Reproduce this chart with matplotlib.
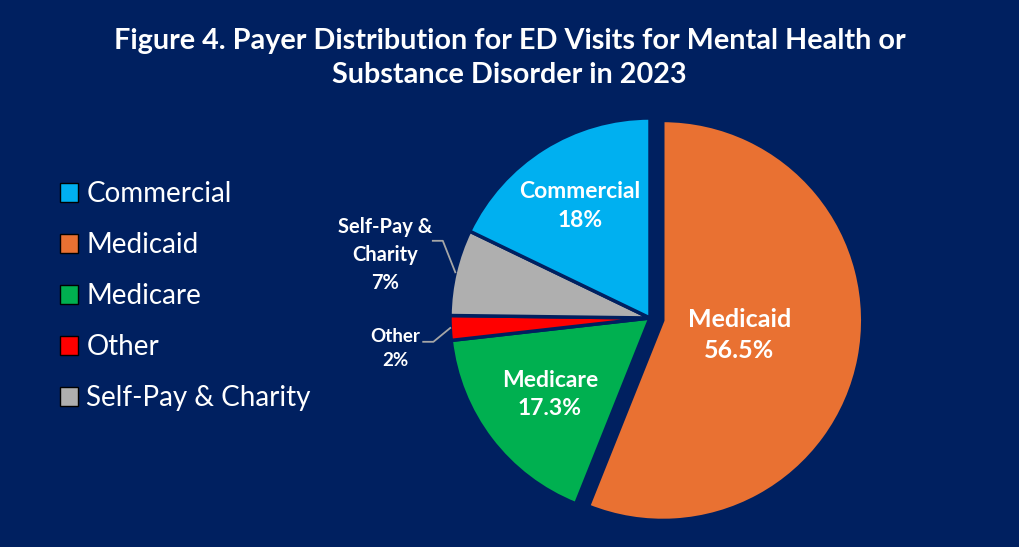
import matplotlib.pyplot as plt
from matplotlib.patches import Patch
import numpy as np

# payer shares as printed on the chart (%)
payers = ['Medicaid', 'Medicare', 'Other', 'Self-Pay & Charity', 'Commercial']
shares = [56.5, 17.3, 2, 7, 18]
share_labels = ['56.5%', '17.3%', '2%', '7%', '18%']
slice_text = ['Medicaid', 'Medicare', 'Other', 'Self-Pay &\nCharity', 'Commercial']
colors = ['#E97132', '#00B050', '#FF0000', '#AFAFAF', '#00B0F0']

legend_order = ['Commercial', 'Medicaid', 'Medicare', 'Other', 'Self-Pay & Charity']

BG = '#002060'

fig = plt.figure(figsize=(10.19, 5.47), dpi=100, facecolor=BG)

# axes placed so that 1 data unit = 200 px, pie centre at (650, 318) px
W, H = 1019, 547
ax = fig.add_axes([330 / W, 4 / H, 640 / W, 450 / H])
ax.set_facecolor(BG)

wedges, _ = ax.pie(shares, colors=colors, startangle=90, counterclock=False,
                   explode=[0.065, 0, 0, 0, 0],
                   wedgeprops=dict(edgecolor=BG, linewidth=2.5))
ax.set_xlim(-1.6, 1.6)
ax.set_ylim(-1.125, 1.125)
ax.set_aspect('equal')
ax.axis('off')

def mid(w):
    return np.deg2rad((w.theta1 + w.theta2) / 2)

# labels inside slices: (radius, font size)
inside = {0: (0.39, 18), 1: (0.63, 16.5), 4: (0.66, 16.5)}
for i, (r, fs) in inside.items():
    a = mid(wedges[i])
    cx, cy = wedges[i].center
    ax.text(cx + r * np.cos(a), cy + r * np.sin(a),
            slice_text[i] + '\n' + share_labels[i], color='white', ha='center',
            va='center', fontsize=fs, fontweight='bold', family='Lato',
            linespacing=1.45)

# labels outside with leader lines: text x, text y, font size, elbow x, elbow y, end x
outside = {3: (-1.325, 0.315, 14.5, -1.036, 0.386, -1.086),
           2: (-1.275, -0.15, 13.5, -1.083, -0.119, -1.134)}
for i, (tx, ty, fs, ex, ey, lx) in outside.items():
    a = mid(wedges[i])
    ax.plot([np.cos(a), ex, lx], [np.sin(a), ey, ey], color='#A6A6A6', lw=1.3,
            clip_on=False)
    ax.text(tx, ty, slice_text[i] + '\n' + share_labels[i], color='white',
            ha='center', va='center', fontsize=fs, fontweight='bold',
            family='Lato', linespacing=1.5)

handles = [Patch(facecolor=colors[payers.index(p)], edgecolor='black', lw=1)
           for p in legend_order]
fig.legend(handles, legend_order, loc='upper left', bbox_to_anchor=(35 / W, 1 - 156 / H),
           frameon=False, prop=dict(family='Lato', size=20), labelcolor='white',
           handlelength=0.65, handleheight=0.65, handletextpad=0.3, labelspacing=0.9)

fig.text(0.5, 1 - 58 / H,
         'Figure 4. Payer Distribution for ED Visits for Mental Health or\nSubstance Disorder in 2023',
         color='white', ha='center', va='center', fontsize=20.7, fontweight='bold',
         family='Lato', linespacing=1.37)

fig.savefig('out.png', dpi=100, facecolor=BG)
